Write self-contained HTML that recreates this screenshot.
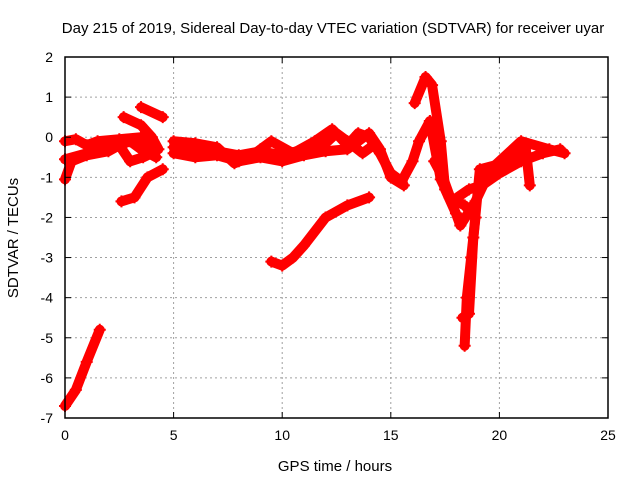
<!DOCTYPE html>
<html><head><meta charset="utf-8"><style>
body{margin:0;background:#fff}
svg{display:block;font-family:"Liberation Sans",sans-serif}
</style></head><body>
<svg id="c" width="640" height="480">
<rect width="640" height="480" fill="#fff"/>
<g id="grid"></g><g id="series"></g><g id="axes"></g>
<text x="333" y="33" font-size="15" text-anchor="middle">Day 215 of 2019, Sidereal Day-to-day VTEC variation (SDTVAR) for receiver uyar</text>
<text x="335" y="471" font-size="15" text-anchor="middle">GPS time / hours</text>
<text transform="translate(18,238) rotate(-90)" font-size="15" text-anchor="middle">SDTVAR / TECUs</text>
</svg>
<script>
const xTicks=[0,5,10,15,20,25];
const yTicks=[2,1,0,-1,-2,-3,-4,-5,-6,-7];
const traceA=[[0,-0.1],[0.5,-0.05],[1,-0.2],[1.5,-0.1],[2.5,-0.05],[3.5,0],[4,-0.3]];
const traceB=[[0,-0.55],[1,-0.4],[2,-0.3],[3,-0.1],[3.5,-0.3],[4.2,-0.5]];
const traceC=[[0,-1.05],[0.3,-0.6],[1,-0.45],[2,-0.35],[2.5,-0.2],[3,-0.6],[3.6,-0.5],[4,-0.4]];
const traceD=[[2.7,0.5],[3.5,0.3],[4,0],[4.3,-0.3]];
const traceE=[[3.5,0.75],[4.5,0.5]];
const traceF=[[2.6,-1.6],[3.2,-1.5],[3.8,-1.0],[4.5,-0.8]];
const traceG=[[0,-6.7],[0.5,-6.3],[1,-5.6],[1.6,-4.8]];
const traceH=[[5,-0.1],[6,-0.15],[7,-0.25],[7.5,-0.5],[7.8,-0.65],[8.5,-0.5],[9,-0.3],[9.5,-0.1],[10.5,-0.4],[11.5,-0.1],[12.3,0.2],[13,-0.2],[13.5,0.1],[14,0],[14.5,-0.4],[15,-0.9],[15.5,-1.1],[16,-0.6],[16.3,-0.1],[16.8,0.4]];
const traceI=[[5,-0.4],[6,-0.5],[7,-0.45],[8,-0.6],[9,-0.5],[10,-0.6],[11,-0.45],[12,-0.35],[13,-0.3],[13.5,-0.1],[14,0.1],[14.5,-0.3],[15,-1.0],[15.6,-1.2]];
const traceN=[[5,-0.25],[6,-0.35],[7,-0.35],[8,-0.45],[9,-0.35],[10,-0.45],[11,-0.3],[12,-0.15],[12.5,0.1],[13,-0.1],[13.7,-0.4],[14.2,-0.2]];
const traceJ=[[9.5,-3.1],[10,-3.2],[10.5,-3.0],[11,-2.7],[12,-2.0],[13,-1.7],[14,-1.5]];
const traceK=[[16.1,0.85],[16.6,1.5],[16.9,1.3],[17.3,-0.1],[17.5,-1.3],[18,-1.9],[18.2,-2.2],[18.9,-1.6],[19.6,-0.8],[21,-0.1],[22.3,-0.3],[23,-0.4]];
const traceL=[[16.8,0.4],[17.3,-1.05],[17.7,-1.5],[18.4,-1.7],[18.9,-2.0],[18.7,-3.0],[18.5,-4.0],[18.4,-5.2]];
const traceM=[[18.3,-4.5],[18.6,-4.4],[18.8,-2.5],[19.1,-0.8],[20.5,-0.6],[21.2,-0.2],[21.4,-1.2]];
const traceO=[[17,-0.6],[17.4,-1.0],[17.8,-1.6],[18.6,-1.3],[19.2,-1.2],[20,-0.9],[21,-0.6],[22,-0.4],[22.8,-0.3]];
const traces=[traceA,traceB,traceC,traceD,traceE,traceF,traceG,traceH,traceI,traceN,traceJ,traceK,traceL,traceM,traceO];
const X0=65,X1=608,Y0=57,Y1=418;
const sx=v=>X0+(v-0)/(25-0)*(X1-X0);
const sy=v=>Y0+(2-v)/(2-(-7))*(Y1-Y0);
const NS="http://www.w3.org/2000/svg";
function mk(t,a,p){const e=document.createElementNS(NS,t);for(const k in a)e.setAttribute(k,a[k]);p.appendChild(e);return e;}
const G=document.getElementById('grid'),S=document.getElementById('series'),A=document.getElementById('axes');
xTicks.forEach(t=>{
 if(t>0&&t<25){const l=mk('line',{x1:sx(t),x2:sx(t),y1:Y0,y2:Y1,stroke:'#a0a0a0','stroke-dasharray':'2,3'},G);
 
 }
 const tx=mk('text',{x:sx(t),y:Y1+22,'font-size':14,'text-anchor':'middle'},A);tx.textContent=t;
 
 
 mk('line',{x1:sx(t),x2:sx(t),y1:Y1,y2:Y1-6,stroke:'#000'},A);
 mk('line',{x1:sx(t),x2:sx(t),y1:Y0,y2:Y0+6,stroke:'#000'},A);
});
yTicks.forEach(t=>{
 if(t<2&&t>-7){const l=mk('line',{x1:X0,x2:X1,y1:sy(t),y2:sy(t),stroke:'#a0a0a0','stroke-dasharray':'2,3'},G);
 
 }
 const tx=mk('text',{x:X0-12,y:sy(t)+5,'font-size':14,'text-anchor':'end'},A);tx.textContent=t;
 
 
 mk('line',{x1:X0,x2:X0+6,y1:sy(t),y2:sy(t),stroke:'#000'},A);
 mk('line',{x1:X1,x2:X1-6,y1:sy(t),y2:sy(t),stroke:'#000'},A);
});
const fr=mk('rect',{x:X0,y:Y0,width:X1-X0,height:Y1-Y0,fill:'none',stroke:'#000','stroke-width':1.5},A);


traces.forEach((tr,i)=>{
 const pl=mk('polyline',{points:tr.map(p=>sx(p[0])+','+sy(p[1])).join(' '),fill:'none',stroke:'#ff0000','stroke-width':10,'stroke-linejoin':'round','stroke-linecap':'round'},S);
 
 
 tr.forEach(p=>{
  const m=mk('path',{d:`M${sx(p[0])-6},${sy(p[1])}h12M${sx(p[0])},${sy(p[1])-6}v12`,stroke:'#ff0000','stroke-width':2},S);
  
  
 });
});
</script>
</body></html>
